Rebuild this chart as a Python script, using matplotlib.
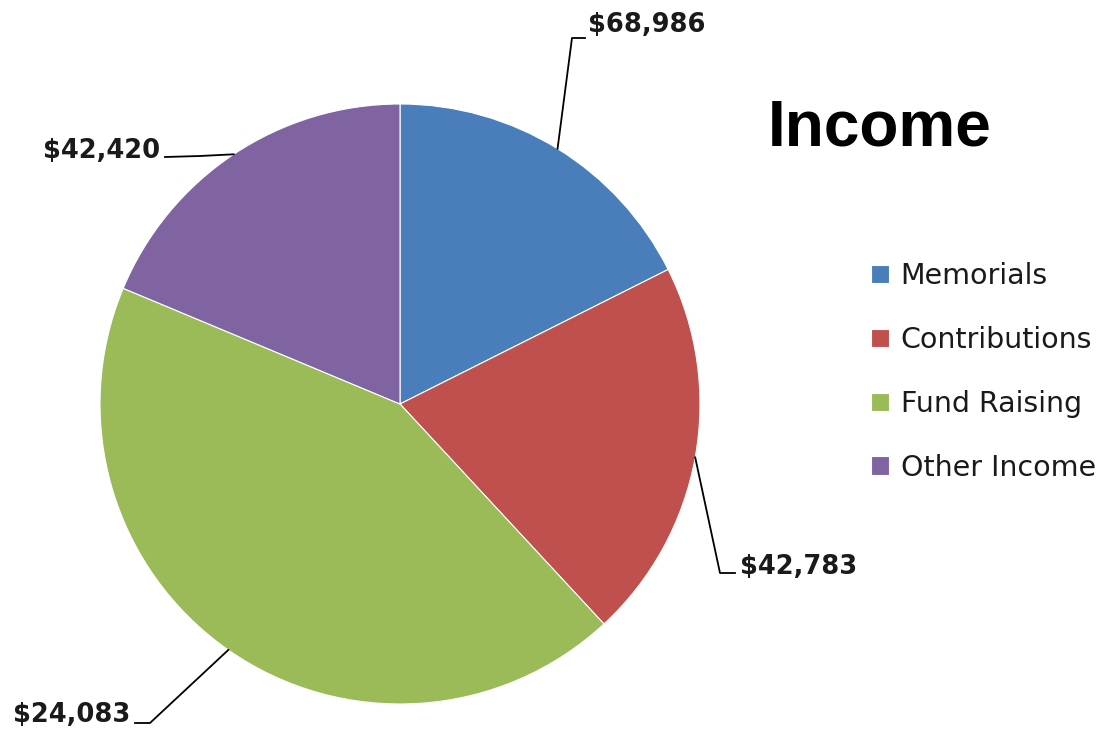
import numpy as np
import matplotlib
matplotlib.use("Agg")
import matplotlib.pyplot as plt
from matplotlib import font_manager

categories = ["Memorials", "Contributions", "Fund Raising", "Other Income"]
shares = [17.6, 20.5, 43.2, 18.7]
value_labels = ["$68,986", "$42,783", "$24,083", "$42,420"]
colors = ["#4A7EBB", "#C0504D", "#9BBB59", "#8064A2"]

# pick the regular-width Liberation Sans Bold file (not the Narrow one)
title_font = dict(family="Liberation Sans", weight="bold")
for f in font_manager.findSystemFonts():
    if f.endswith("LiberationSans-Bold.ttf"):
        title_font = dict(fname=f)
        break

W, H = 1099, 732
cx, cy, r = 400, 404, 300

fig = plt.figure(figsize=(W / 100, H / 100), dpi=100)
ax = fig.add_axes([(cx - r) / W, (H - cy - r) / H, 2 * r / W, 2 * r / H])

wedges, _ = ax.pie(shares, colors=colors, startangle=90, counterclock=False,
                   wedgeprops=dict(edgecolor="white", linewidth=0.8))
ax.set_xlim(-1, 1)
ax.set_ylim(-1, 1)
ax.set_aspect("equal")
ax.axis("off")

def px(x, y):
    # pixel position -> pie data coords
    return (x - cx) / r, (cy - y) / r

# elbow point, end of leader, text anchor, alignment
leaders = [
    ((572, 38), (585, 38), (588, 25), "left"),
    ((720, 573), (735, 573), (740, 567), "left"),
    ((150, 723), (135, 723), (130, 715), "right"),
    ((200, 156), (165, 157), (160, 151), "right"),
]

for w, lab, (elb, end, txt, ha) in zip(wedges, value_labels, leaders):
    mid = np.deg2rad((w.theta1 + w.theta2) / 2)
    x0, y0 = np.cos(mid), np.sin(mid)
    ex, ey = px(*elb)
    nx, ny = px(*end)
    ax.plot([x0, ex, nx], [y0, ey, ny], color="black", lw=1.3,
            clip_on=False, zorder=3)
    tx, ty = px(*txt)
    ax.text(tx, ty, lab, ha=ha, va="center", fontsize=18.5,
            fontweight="bold", family="DejaVu Sans", color="#1a1a1a",
            clip_on=False)

fig.text(880 / W, 1 - 128 / H, "Income", ha="center", va="center",
         fontproperties=font_manager.FontProperties(size=46, **title_font))

leg = fig.legend(wedges, categories, loc="center left",
                 bbox_to_anchor=(845 / W, 1 - 372 / H), frameon=False,
                 prop=dict(family="DejaVu Sans", size=20.5), handlelength=0.63,
                 handleheight=0.63, handletextpad=0.42, labelspacing=1.26)
for t in leg.get_texts():
    t.set_color("#1a1a1a")

fig.savefig("out.png", dpi=100)
